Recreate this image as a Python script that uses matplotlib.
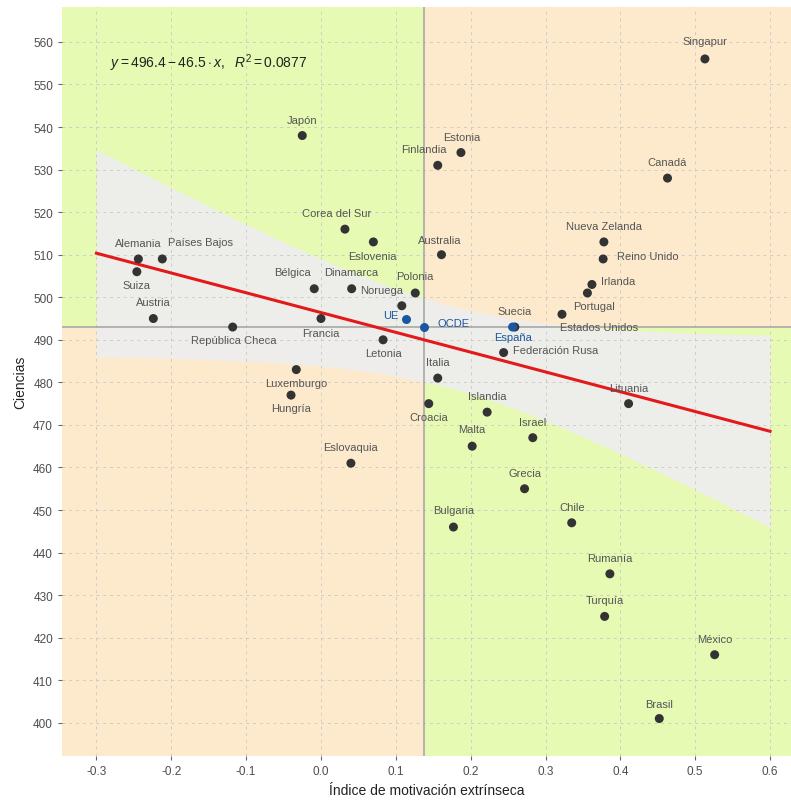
import numpy as np
import matplotlib.pyplot as plt
from matplotlib.patches import Rectangle

plt.rcParams['font.family'] = ['Liberation Sans', 'DejaVu Sans']
plt.rcParams['mathtext.fontset'] = 'custom'
plt.rcParams['mathtext.rm'] = 'Liberation Sans'
plt.rcParams['mathtext.it'] = 'Liberation Sans:italic'


# ---------- datos ----------------------------------------------------------
paises = ["Singapur", "Japón", "Estonia", "Finlandia", "Canadá", "Corea del Sur",
          "Eslovenia", "Nueva Zelanda", "Australia", "Reino Unido", "Alemania",
          "Países Bajos", "Suiza", "Irlanda", "Bélgica", "Dinamarca", "Polonia",
          "Portugal", "Noruega", "Estados Unidos", "Austria", "Francia", "Suecia",
          "República Checa", "España", "Letonia", "Federación Rusa", "Luxemburgo",
          "Italia", "Hungría", "Lituania", "Croacia", "Islandia", "Israel", "Malta",
          "Eslovaquia", "Grecia", "Chile", "Bulgaria", "Rumanía", "Turquía",
          "México", "Brasil"]
motivacion = [0.513, -0.025, 0.187, 0.156, 0.463, 0.032,
              0.070, 0.378, 0.161, 0.377, -0.244,
              -0.212, -0.246, 0.362, -0.009, 0.041, 0.126,
              0.356, 0.108, 0.322, -0.224, 0.000, 0.259,
              -0.118, 0.256, 0.083, 0.244, -0.033,
              0.156, -0.040, 0.411, 0.144, 0.222, 0.283, 0.202,
              0.040, 0.272, 0.335, 0.177, 0.386, 0.379,
              0.526, 0.452]
ciencias = [556, 538, 534, 531, 528, 516,
            513, 513, 510, 509, 509,
            509, 506, 503, 502, 502, 501,
            501, 498, 496, 495, 495, 493,
            493, 493, 490, 487, 483,
            481, 477, 475, 475, 473, 467, 465,
            461, 455, 447, 446, 435, 425,
            416, 401]

promedios = ["UE", "OCDE"]
motivacion_prom = [0.114, 0.137]
ciencias_prom = [495, 493]

# recta de regresión publicada
intercepto = 496.4
pendiente = -46.5
r2 = 0.0877

# desplazamiento de etiquetas (pixeles)
desp = {
    "Singapur": (0, 18), "Japón": (0, 16), "Estonia": (1, 16), "Finlandia": (-14, 16),
    "Canadá": (0, 16), "Corea del Sur": (-8, 16), "Eslovenia": (-1, -14),
    "Australia": (-2, 15), "Nueva Zelanda": (0, 16), "Reino Unido": (45, 3),
    "Irlanda": (26, 3), "Portugal": (7, -13), "Estados Unidos": (37, -13),
    "Suecia": (0, 16), "España": (0, -10), "Federación Rusa": (52, 3),
    "Lituania": (0, 16), "OCDE": (30, 4), "UE": (-15, 4), "Alemania": (0, 16),
    "Países Bajos": (38, 17), "Suiza": (0, -13), "Austria": (0, 17),
    "República Checa": (1, -13), "Bélgica": (-22, 17), "Dinamarca": (0, 17),
    "Noruega": (-20, 16), "Polonia": (0, 17), "Francia": (0, -14),
    "Letonia": (0, -13), "Italia": (0, 16), "Luxemburgo": (0, -13),
    "Hungría": (0, -13), "Croacia": (0, -13), "Islandia": (0, 16),
    "Israel": (0, 16), "Malta": (0, 17), "Eslovaquia": (0, 16), "Grecia": (0, 16),
    "Bulgaria": (0, 17), "Chile": (0, 16), "Rumanía": (0, 16), "Turquía": (0, 16),
    "México": (0, 16), "Brasil": (0, 15),
}

verde = '#e6fab4'
naranja = '#fdeacd'
azul = '#1b56a3'
gris_txt = '#555555'


# ---------- figura ---------------------------------------------------------
fig = plt.figure(figsize=(7.91, 8.03), dpi=100)
ax = fig.add_axes([0.0784, 0.0573, 0.9216, 0.9327])
xlim = (-0.346, 0.628)
ylim = (392.2, 568.2)
ax.set_xlim(xlim)
ax.set_ylim(ylim)

# cuadrantes respecto a la media OCDE
xc, yc = motivacion_prom[1], ciencias_prom[1]
cuadrantes = [((xlim[0], yc), xc - xlim[0], ylim[1] - yc, verde),
              ((xc, yc), xlim[1] - xc, ylim[1] - yc, naranja),
              ((xlim[0], ylim[0]), xc - xlim[0], yc - ylim[0], naranja),
              ((xc, ylim[0]), xlim[1] - xc, yc - ylim[0], verde)]
for xy, w, h, c in cuadrantes:
    ax.add_patch(Rectangle(xy, w, h, facecolor=c, lw=0, zorder=0.1))

# banda de confianza al 95 %
x = np.array(motivacion)
y = np.array(ciencias)
n = len(x)
res = y - (intercepto + pendiente * x)
s = np.sqrt(np.sum(res ** 2) / (n - 2))
sxx = np.sum((x - x.mean()) ** 2)
xs = np.linspace(-0.3, 0.6, 200)
ys = intercepto + pendiente * xs
se = s * np.sqrt(1 / n + (xs - x.mean()) ** 2 / sxx)
t975 = 2.02
ax.fill_between(xs, ys - t975 * se, ys + t975 * se, color='#eeeeee',
                alpha=0.92, lw=0, zorder=0.3)

ax.set_axisbelow(True)
ax.grid(True, color='#c4c4c4', alpha=0.8, linestyle=(0, (3, 4)), linewidth=0.7)

ax.axvline(xc, color='#a8a8a8', lw=1.2, zorder=0.6)
ax.axhline(yc, color='#a8a8a8', lw=1.2, zorder=0.6)

ax.plot(xs, ys, color='#e31a1c', lw=2.2, zorder=2)

# puntos
colores = [azul if p == "España" else '#333333' for p in paises]
ax.scatter(x, y, s=42, c=colores, zorder=3, linewidths=0)
ax.scatter(motivacion_prom, ciencias_prom, s=42, c=azul, zorder=3, linewidths=0)

for p, xi, yi in zip(paises + promedios, motivacion + motivacion_prom,
                     ciencias + ciencias_prom):
    col = azul if p in ("España", "UE", "OCDE") else gris_txt
    ax.annotate(p, (xi, yi), xytext=desp[p], textcoords='offset pixels',
                ha='center', va='center', fontsize=8, color=col, zorder=4)

ax.text(-0.282, 555.3,
        r'$y = 496.4 - 46.5 \cdot x,\ \ R^2 = 0.0877$',
        ha='left', va='center', fontsize=10, color='#222222')

ax.set_xticks(np.round(np.arange(-0.3, 0.61, 0.1), 1))
ax.set_xticklabels([f"{v:.1f}" for v in np.arange(-0.3, 0.61, 0.1)])
ax.set_yticks(np.arange(400, 561, 10))
for sp in ax.spines.values():
    sp.set_visible(False)
ax.tick_params(colors='#666666', labelcolor='#4d4d4d', labelsize=8.5, length=3)

ax.set_xlabel("Índice de motivación extrínseca", fontsize=10, color='#222222')
ax.set_ylabel("Ciencias", fontsize=10, color='#222222')

fig.savefig("out.png", dpi=100)
